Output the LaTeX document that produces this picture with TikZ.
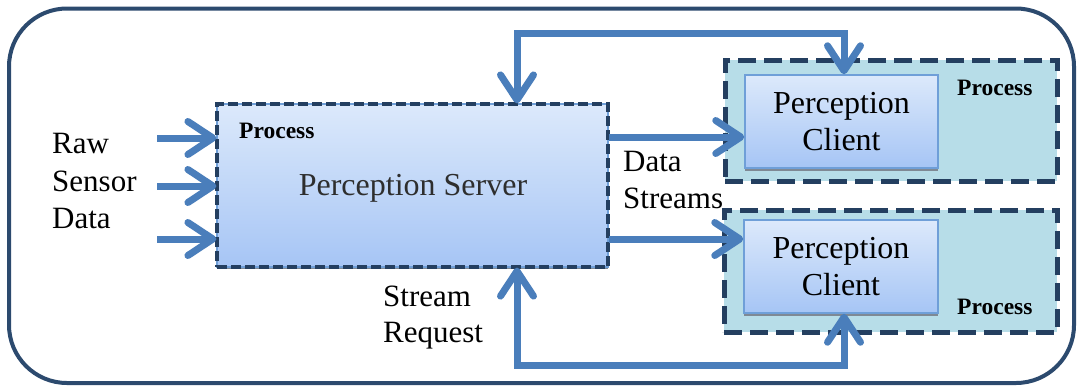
\documentclass[tikz,border=0pt]{standalone}
\usepackage{fontspec}
\setmainfont{Liberation Serif}
\usetikzlibrary{arrows.meta,shadows,calc}
\definecolor{arrowblue}{HTML}{4A7EBB}
\definecolor{navy}{HTML}{243F60}
\definecolor{framec}{HTML}{2C4A6E}
\definecolor{topfill}{HTML}{DCE9FB}
\definecolor{botfill}{HTML}{A6C5F5}
\definecolor{edgeblue}{HTML}{6F9FD8}
\definecolor{procteal}{HTML}{B7DDE8}
\definecolor{textgray}{HTML}{2E2E2E}
\definecolor{shadowgray}{HTML}{7F8994}
\begin{document}
\begin{tikzpicture}[x=1pt,y=-1pt,
  tipstyle/.tip={Straight Barb[length=25pt,width=33pt,round]},
  arr/.style={draw=arrowblue, line width=7pt, -tipstyle},
  biarr/.style={draw=arrowblue, line width=7pt, tipstyle-tipstyle},
  serverbox/.style={rectangle, inner sep=0pt, top color=topfill, bottom color=botfill,
    draw=edgeblue, line width=1.2pt,
    drop shadow={shadow xshift=0pt, shadow yshift=-2pt, fill=shadowgray, opacity=1},
    postaction={draw=navy, line width=4pt, dash pattern=on 10pt off 4pt}},
  procbox/.style={rectangle, inner sep=0pt, fill=procteal, draw=navy, line width=5pt,
    dash pattern=on 18pt off 8pt},
  clientbox/.style={rectangle, inner sep=0pt, top color=topfill, bottom color=botfill,
    draw=edgeblue, line width=1.5pt,
    drop shadow={shadow xshift=0pt, shadow yshift=-3pt, fill=shadowgray, opacity=1},
    align=center, font=\fontsize{32}{37}\selectfont, text=black},
  proclabel/.style={inner sep=0pt, font=\fontsize{23.5}{27}\selectfont\bfseries, text=black},
  lbl/.style={inner sep=0pt, align=left, font=\fontsize{31}{37.5}\selectfont, text=black}
]
\useasboundingbox (0,0) rectangle (1078,386);

% outer frame
\draw[line width=4pt, draw=framec, rounded corners=58pt] (9,8.5) rectangle (1074,383);

% server
\node[serverbox, minimum width=391pt, minimum height=163pt] (server) at (412.5,185.5) {};
\node[inner sep=0pt, font=\fontsize{32}{37}\selectfont, text=textgray, anchor=base] (servertxt) at (413,195) {Perception Server};
\node[proclabel, anchor=base west] (sproc) at (239,138) {Process};

% client processes
\node[procbox, minimum width=332pt, minimum height=121pt] (p1) at (891,120.5) {};
\node[clientbox, minimum width=193pt, minimum height=93pt] (c1) at (841.5,121.5) {Perception\\Client};
\node[proclabel, anchor=base west] (p1lab) at (957,95) {Process};

\node[procbox, minimum width=333pt, minimum height=122pt] (p2) at (890.5,271) {};
\node[clientbox, minimum width=194pt, minimum height=93pt] (c2) at (841,266.5) {Perception\\Client};
\node[proclabel, anchor=base west] (p2lab) at (957,314) {Process};

% labels
\node[lbl, anchor=west] (raw) at (52,181) {Raw\\Sensor\\Data};
\node[lbl, anchor=west] (ds) at (623,180) {Data\\Streams};
\node[lbl, anchor=west, font=\fontsize{31}{36}\selectfont] (sr) at (383,318) {Stream\\Request};

% input arrows
\coordinate (in1) at (157,138);
\coordinate (in2) at (157,186);
\coordinate (in3) at (157,239);
\draw[arr] (in1) -- (server.west |- in1);
\draw[arr] (in2) -- (server.west |- in2);
\draw[arr] (in3) -- (server.west |- in3);

% data streams
\coordinate (d1) at (0,137);
\coordinate (d2) at (0,239);
\draw[arr] (server.east |- d1) -- (c1.west |- d1);
\draw[arr] (server.east |- d2) -- (c2.west |- d2);

% loops
\coordinate (lt1) at (517,33);
\coordinate (lt2) at (844,33);
\draw[biarr] (lt1 |- server.north) -- (lt1) -- (lt2) -- (lt2 |- c1.north);
\coordinate (lb1) at (517,365);
\coordinate (lb2) at (844,365);
\draw[biarr] (lb1 |- server.south) -- (lb1) -- (lb2) -- (lb2 |- c2.south);
\end{tikzpicture}
\end{document}
